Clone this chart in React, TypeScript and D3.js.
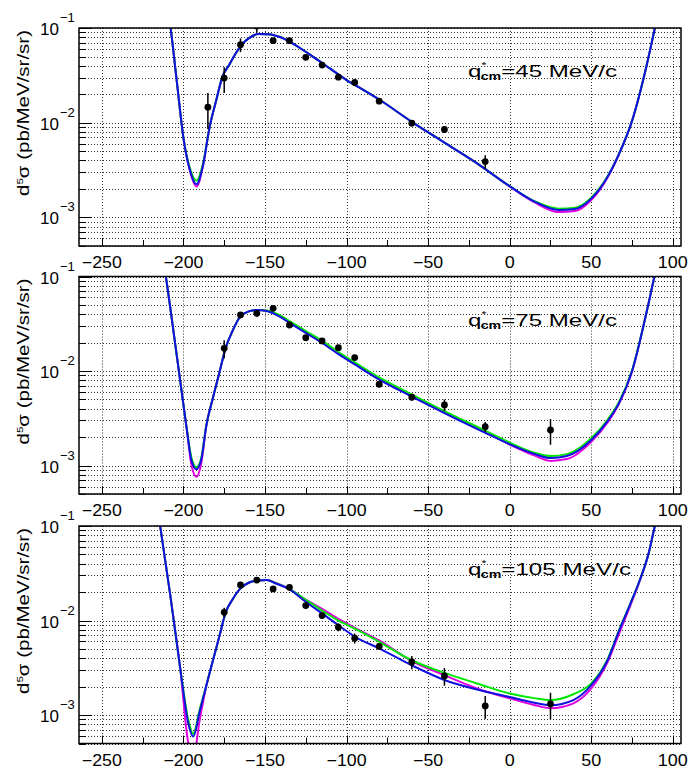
import React from "react";
import * as d3 from "d3";

// ---------- data ----------
const PTS_X_45 = [-185, -175, -165, -155, -145, -135, -125, -115, -105, -95, -80, -60, -40, -15];
const PTS_Y_45 = [0.0146, 0.0296, 0.0666, 0.105, 0.0734, 0.0734, 0.049, 0.0406, 0.0303, 0.0266, 0.0169, 0.0099, 0.00848, 0.00389];
const PTS_E_45 = [0.006, 0.009, 0.011, 0.016, 0.004, 0.004, 0.003, 0.002, 0.002, 0.0015, 0.001, 0.0007, 0.00065, 0.00065];

const PTS_X_75 = [-175, -165, -155, -145, -135, -125, -115, -105, -95, -80, -60, -40, -15, 25];
const PTS_Y_75 = [0.0174, 0.0392, 0.0408, 0.0461, 0.0307, 0.0225, 0.0208, 0.01767, 0.01387, 0.00725, 0.00528, 0.00438, 0.00258, 0.00238];
const PTS_E_75 = [0.0038, 0.003, 0.003, 0.003, 0.002, 0.0015, 0.0012, 0.001, 0.001, 0.0006, 0.0004, 0.00062, 0.00031, 0.00072];

const PTS_X_105 = [-175, -165, -155, -145, -135, -125, -115, -105, -95, -80, -60, -40, -15, 25];
const PTS_Y_105 = [0.01222, 0.02377, 0.0268, 0.0216, 0.02244, 0.01439, 0.01129, 0.0085, 0.00651, 0.00532, 0.00364, 0.00259, 0.00125, 0.00131];
const PTS_E_105 = [0.0014, 0.0015, 0.0015, 0.0013, 0.0013, 0.001, 0.0009, 0.0008, 0.0008, 0.0004, 0.00058, 0.00055, 0.00034, 0.00041];

const CURVE_X_45 = [-212, -208, -204, -200, -196, -192, -188, -184, -180, -176, -172, -168, -164, -160, -154, -148, -140, -130, -120, -110, -100, -90, -80, -60, -40, -20, 0, 15, 30, 40, 50, 60, 67, 75, 84, 89, 93];
const BLUE_45 = [0.282, 0.1047, 0.0269, 0.00692, 0.00316, 0.00224, 0.00355, 0.00891, 0.017, 0.0309, 0.0407, 0.0537, 0.0676, 0.0776, 0.0865, 0.0861, 0.0794, 0.0638, 0.049, 0.0372, 0.0282, 0.0224, 0.0176, 0.01023, 0.00617, 0.00372, 0.00214, 0.00148, 0.0012, 0.00123, 0.00158, 0.00269, 0.00468, 0.01047, 0.0407, 0.1, 0.2];
const GREEN_45 = [0.282, 0.1047, 0.0269, 0.00692, 0.0033, 0.00245, 0.0037, 0.00891, 0.017, 0.0309, 0.0407, 0.0537, 0.0676, 0.0776, 0.0865, 0.0861, 0.0794, 0.0638, 0.049, 0.0372, 0.0282, 0.0224, 0.0176, 0.01023, 0.00617, 0.00372, 0.00214, 0.00149, 0.00124, 0.00127, 0.00162, 0.00272, 0.0047, 0.01047, 0.0407, 0.1, 0.2];
const MAGENTA_45 = [0.282, 0.1047, 0.0269, 0.00692, 0.0031, 0.00212, 0.0035, 0.00891, 0.017, 0.0309, 0.0407, 0.0537, 0.0676, 0.0776, 0.0865, 0.0861, 0.0794, 0.0638, 0.049, 0.0372, 0.0282, 0.0224, 0.0176, 0.01023, 0.00617, 0.00372, 0.00212, 0.00145, 0.00114, 0.00117, 0.00153, 0.00265, 0.00465, 0.01047, 0.0407, 0.1, 0.2];

const CURVE_X_75 = [-214, -210, -206, -202, -198, -195, -192, -189, -186, -182, -178, -174, -170, -165, -160, -155, -149, -141, -135, -125, -115, -105, -95, -80, -60, -40, -15, 0, 15, 25, 35, 50, 60, 67, 75, 84, 89, 93];
const BLUE_75 = [0.224, 0.0813, 0.0257, 0.00794, 0.00248, 0.00112, 0.000912, 0.00117, 0.00263, 0.00513, 0.00955, 0.0178, 0.0263, 0.038, 0.0427, 0.0443, 0.0432, 0.0376, 0.0324, 0.0253, 0.0198, 0.0151, 0.01175, 0.00813, 0.00537, 0.00359, 0.00222, 0.00168, 0.00133, 0.0012, 0.00126, 0.00186, 0.00295, 0.00457, 0.01, 0.0427, 0.1047, 0.2];
const GREEN_75 = [0.224, 0.0813, 0.0257, 0.00794, 0.0025, 0.0012, 0.00096, 0.00122, 0.00263, 0.00513, 0.00955, 0.0178, 0.0263, 0.038, 0.0427, 0.0443, 0.0436, 0.039, 0.0338, 0.0265, 0.0208, 0.0159, 0.01235, 0.00855, 0.00565, 0.00377, 0.00234, 0.00175, 0.00137, 0.00126, 0.00132, 0.00195, 0.00305, 0.0047, 0.0102, 0.0427, 0.1047, 0.2];
const MAGENTA_75 = [0.224, 0.0813, 0.0257, 0.00794, 0.00245, 0.001, 0.00076, 0.00107, 0.0026, 0.00513, 0.00955, 0.0178, 0.0263, 0.038, 0.0427, 0.0443, 0.0434, 0.0382, 0.0334, 0.0262, 0.0205, 0.0156, 0.01215, 0.0084, 0.00553, 0.00368, 0.00226, 0.00167, 0.00128, 0.00112, 0.00117, 0.00178, 0.00285, 0.0045, 0.0099, 0.0427, 0.1047, 0.2];

const CURVE_X_105 = [-218, -214, -208, -202, -197, -194, -190, -186, -182, -178, -174, -170, -165, -160, -155, -149, -143, -135, -125, -115, -105, -95, -80, -60, -40, -20, 0, 15, 25, 39, 50, 60, 67, 74, 80, 85, 89, 93];
const BLUE_105 = [0.282, 0.0933, 0.0182, 0.00316, 0.000813, 0.000592, 0.001096, 0.00204, 0.00372, 0.00676, 0.0123, 0.0166, 0.0219, 0.0251, 0.0264, 0.0268, 0.0245, 0.0214, 0.0158, 0.01189, 0.00891, 0.00676, 0.00507, 0.00336, 0.00235, 0.00186, 0.00155, 0.00135, 0.00127, 0.00144, 0.00207, 0.0038, 0.00776, 0.0151, 0.0275, 0.0501, 0.1, 0.178];
const GREEN_105 = [0.282, 0.0933, 0.0182, 0.00316, 0.00089, 0.00063, 0.00115, 0.00204, 0.00372, 0.00676, 0.0123, 0.0166, 0.0219, 0.0251, 0.0264, 0.0268, 0.0247, 0.0215, 0.0166, 0.01274, 0.01, 0.00822, 0.00596, 0.0038, 0.00279, 0.00216, 0.00169, 0.00151, 0.00144, 0.00166, 0.00216, 0.0039, 0.0079, 0.0152, 0.0275, 0.0501, 0.1, 0.178];
const MAGENTA_105 = [0.282, 0.0933, 0.0182, 0.00316, 0.0005, 0.000355, 0.00089, 0.002, 0.00372, 0.00676, 0.0123, 0.0166, 0.0219, 0.0251, 0.0264, 0.0269, 0.0248, 0.0216, 0.0166, 0.01327, 0.01042, 0.00838, 0.00615, 0.00373, 0.00264, 0.00191, 0.0015, 0.00128, 0.00118, 0.00133, 0.00191, 0.00363, 0.00724, 0.01445, 0.027, 0.0501, 0.1, 0.178];

const X_MAJOR = [-250, -200, -150, -100, -50, 0, 50, 100];
const X_MINOR = [-225, -175, -125, -75, -25, 25, 75];
const LABELS = ["45", "75", "105"];

// ---------- layout ----------
const FONT = "'Liberation Sans', Arial, Helvetica, sans-serif";
const LEFT = 79;
const RIGHT = 681;
const PANELS = [
  { top: 28, bottom: 246 },
  { top: 276.5, bottom: 494 },
  { top: 526, bottom: 743.5 },
];

const COLORS = { magenta: "#e000e0", green: "#00e800", blue: "#1010e0" };

type PanelProps = {
  idx: number;
  top: number;
  bottom: number;
  px: number[];
  py: number[];
  pe: number[];
  cx: number[];
  blue: number[];
  green: number[];
  magenta: number[];
  label: string;
};

function labelWidth(v: number) {
  const s = String(Math.abs(v));
  return (v < 0 ? 10 : 0) + s.length * 10;
}

function Panel(p: PanelProps) {
  const x = d3.scaleLinear().domain([-264, 105]).range([LEFT, RIGHT]);
  const y = d3.scaleLog().domain([5e-4, 0.1]).range([p.bottom, p.top]);
  const yt = y.ticks();
  const isMajor = (v: number) => Math.abs(Math.log10(v) - Math.round(Math.log10(v))) < 1e-6;
  const line = d3
    .line<[number, number]>()
    .x((d) => x(d[0]))
    .y((d) => y(d[1]))
    .curve(d3.curveMonotoneX);
  const mk = (ys: number[]) => line(p.cx.map((xx, i) => [xx, ys[i]] as [number, number])) || "";
  const clipId = `clip${p.idx}`;
  const majors = yt.filter(isMajor);
  return (
    <g>
      <defs>
        <clipPath id={clipId}>
          <rect x={LEFT} y={p.top} width={RIGHT - LEFT} height={p.bottom - p.top} />
        </clipPath>
      </defs>
      {/* grid */}
      <g stroke="#333" strokeWidth={1} strokeDasharray="1 2">
        {yt.map((v, i) => (
          <line key={"gy" + i} x1={LEFT} x2={RIGHT} y1={Math.round(y(v)) + 0.5} y2={Math.round(y(v)) + 0.5} />
        ))}
        {X_MAJOR.map((v) => (
          <line key={"gx" + v} x1={Math.round(x(v)) + 0.5} x2={Math.round(x(v)) + 0.5} y1={p.top} y2={p.bottom} />
        ))}
      </g>
      {/* ticks */}
      <g stroke="#000" strokeWidth={1}>
        {yt.map((v, i) => (
          <line key={"ty" + i} x1={LEFT} x2={LEFT + (isMajor(v) ? 13 : 7)} y1={Math.round(y(v)) + 0.5} y2={Math.round(y(v)) + 0.5} />
        ))}
        {X_MAJOR.map((v) => (
          <line key={"tx" + v} x1={Math.round(x(v)) + 0.5} x2={Math.round(x(v)) + 0.5} y1={p.bottom} y2={p.bottom - 8} />
        ))}
        {X_MINOR.map((v) => (
          <line key={"tm" + v} x1={Math.round(x(v)) + 0.5} x2={Math.round(x(v)) + 0.5} y1={p.bottom} y2={p.bottom - 6} />
        ))}
      </g>
      {/* curves */}
      <g clipPath={`url(#${clipId})`} fill="none" strokeWidth={2}>
        <path d={mk(p.magenta)} stroke={COLORS.magenta} />
        <path d={mk(p.green)} stroke={COLORS.green} />
        <path d={mk(p.blue)} stroke={COLORS.blue} />
        {/* data */}
        {p.px.map((xx, i) => (
          <g key={"pt" + i}>
            <line x1={x(xx)} x2={x(xx)} y1={y(p.py[i] + p.pe[i])} y2={y(Math.max(p.py[i] - p.pe[i], 1e-5))} stroke="#000" strokeWidth={1.5} />
            <circle cx={x(xx)} cy={y(p.py[i])} r={3.4} fill="#000" />
          </g>
        ))}
      </g>
      {/* frame */}
      <rect x={LEFT} y={p.top} width={RIGHT - LEFT} height={p.bottom - p.top} fill="none" stroke="#000" strokeWidth={1.5} />
      {/* x labels */}
      <g fontFamily={FONT} fontSize={16} textAnchor="middle" fill="#000">
        {X_MAJOR.map((v) => (
          <text key={"lx" + v} x={x(v)} y={p.bottom + 22} textLength={labelWidth(v)} lengthAdjust="spacingAndGlyphs">
            {v < 0 ? "\u2212" + Math.abs(v) : String(v)}
          </text>
        ))}
      </g>
      {/* y labels */}
      <g fontFamily={FONT} fill="#000">
        {majors.map((v) => {
          const e = Math.round(Math.log10(v));
          const yy = y(v);
          return (
            <g key={"ly" + e}>
              <text x={59} y={yy + 7} fontSize={17} textAnchor="end">10</text>
              <text x={60} y={yy - 6} fontSize={13}>{"\u2212" + Math.abs(e)}</text>
            </g>
          );
        })}
      </g>
      {/* y title */}
      <text
        transform={`translate(29,${p.top + 2}) rotate(-90)`}
        fontFamily={FONT}
        fontSize={16}
        textAnchor="end"
        fill="#000"
        textLength={166}
        lengthAdjust="spacingAndGlyphs"
      >
        d<tspan fontSize={9} dy={-6}>5</tspan><tspan dy={6}>σ (pb/MeV/sr/sr)</tspan>
      </text>
      {/* panel label */}
      <text
        x={468}
        y={p.top + 49}
        fontFamily={FONT}
        fontSize={17}
        fill="#000"
        textLength={p.label.length === 3 ? 163 : 149}
        lengthAdjust="spacingAndGlyphs"
      >
        q<tspan fontSize={9} dy={-9}>*</tspan>
        <tspan fontSize={10} fontWeight="bold" dy={12} dx={-4}>cm</tspan>
        <tspan dy={-3}>{"=" + p.label + " MeV/c"}</tspan>
      </text>
    </g>
  );
}

export default function App() {
  const sets = [
    { px: PTS_X_45, py: PTS_Y_45, pe: PTS_E_45, cx: CURVE_X_45, blue: BLUE_45, green: GREEN_45, magenta: MAGENTA_45 },
    { px: PTS_X_75, py: PTS_Y_75, pe: PTS_E_75, cx: CURVE_X_75, blue: BLUE_75, green: GREEN_75, magenta: MAGENTA_75 },
    { px: PTS_X_105, py: PTS_Y_105, pe: PTS_E_105, cx: CURVE_X_105, blue: BLUE_105, green: GREEN_105, magenta: MAGENTA_105 },
  ];
  return (
    <svg
      width={690}
      height={772}
      style={{ position: "absolute", left: 0, top: 0, background: "#fff" }}
    >
      <rect width={690} height={772} fill="#fff" />
      {PANELS.map((pn, i) => (
        <Panel key={i} idx={i} top={pn.top} bottom={pn.bottom} label={LABELS[i]} {...sets[i]} />
      ))}
    </svg>
  );
}
